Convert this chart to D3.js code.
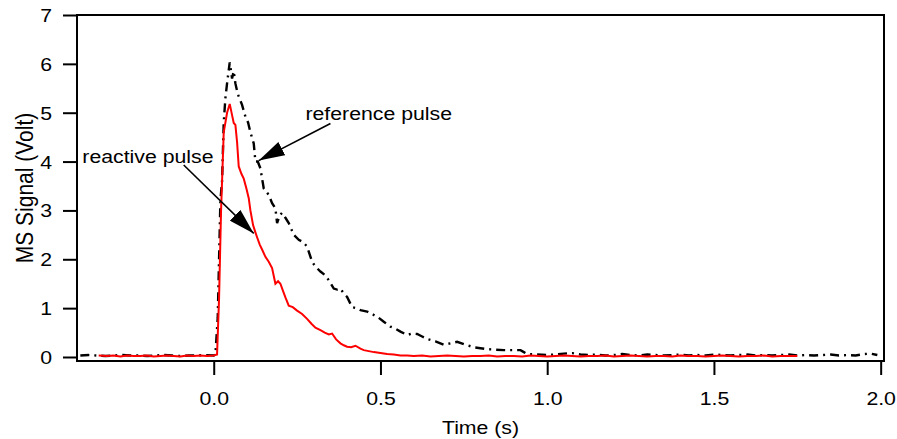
<!DOCTYPE html>
<html>
<head>
<meta charset="utf-8">
<script src="https://cdn.jsdelivr.net/npm/d3@7"></script>
<style>
  body { margin: 0; background: #fff; }
  text { font-family: "Liberation Sans", Arial, sans-serif; }
</style>
</head>
<body>
<div id="chart"></div>
<script>
var wd = 897;
var ht = 439;
var margin = { top: 15, right: 13, bottom: 78, left: 77 };
var stretch = 1.15; // glyphs in the picture are a bit wider than tall

// reactive pulse (red, solid)
var reactiveTime = [-0.345,-0.32,-0.30,-0.28,-0.26,-0.24,-0.22,-0.20,-0.18,-0.16,-0.14,-0.12,-0.10,-0.08,-0.06,-0.04,-0.02,0.0,0.01,
  0.016,0.022,0.030,0.040,0.048,0.055,0.060,0.065,0.070,0.075,0.083,0.090,0.098,0.105,0.110,0.118,0.125,0.130,0.138,0.145,0.155,
  0.165,0.175,0.185,0.193,0.200,0.208,0.215,0.225,0.237,0.250,0.265,0.280,0.293,0.305,0.320,0.333,0.345,0.355,0.367,0.380,
  0.390,0.400,0.412,0.425,0.440,0.450,0.465,0.480,0.50,0.52,0.54,0.56,0.58,
  0.600,0.625,0.650,0.675,0.700,0.725,0.750,0.775,0.800,0.825,0.850,0.875,0.900,0.925,0.950,0.975,1.000,1.025,1.050,1.075,
  1.100,1.125,1.150,1.175,1.200,1.225,1.250,1.275,1.300,1.325,1.350,1.375,1.400,1.425,1.450,1.475,1.500,1.525,1.550,1.575,
  1.600,1.625,1.650,1.675,1.700,1.725,1.750];
var reactiveSignal = [0.03,0.02,0.03,0.01,0.03,0.02,0.02,0.03,0.01,0.02,0.03,0.02,0.01,0.03,0.02,0.03,0.02,0.03,0.05,
  1.2,3.0,4.6,5.0,5.18,4.95,4.79,4.75,4.4,3.9,3.75,3.65,3.45,3.25,3.0,2.7,2.55,2.45,2.3,2.2,2.05,
  1.95,1.82,1.5,1.55,1.5,1.35,1.22,1.05,1.02,0.95,0.88,0.78,0.68,0.6,0.55,0.5,0.46,0.48,0.36,0.28,
  0.24,0.21,0.2,0.23,0.17,0.14,0.12,0.10,0.08,0.06,0.05,0.03,0.03,
  0.02,0.03,0.01,0.02,0.03,0.02,0.01,0.02,0.02,0.03,0.01,0.02,0.02,0.01,0.03,0.02,0.01,0.02,0.03,0.02,
  0.01,0.02,0.02,0.03,0.01,0.02,0.03,0.02,0.01,0.02,0.02,0.01,0.03,0.02,0.02,0.01,0.02,0.03,0.02,0.01,
  0.02,0.02,0.03,0.01,0.02,0.02,0.02];

// reference pulse (black, dash-dot)
var referenceTime = [-0.400,-0.375,-0.350,-0.325,-0.300,-0.275,-0.250,-0.225,-0.200,-0.175,-0.150,-0.125,-0.100,-0.075,-0.050,-0.025,0.0,
  0.005,0.012,0.020,0.025,0.030,0.035,0.040,0.048,0.052,0.055,0.060,0.065,0.070,0.075,0.085,0.095,0.103,0.110,0.120,0.125,0.132,
  0.140,0.150,0.158,0.165,0.175,0.185,0.190,0.198,0.205,0.215,0.225,0.240,0.255,0.268,0.280,0.295,0.305,0.320,0.335,0.345,
  0.360,0.370,0.380,0.390,0.400,0.415,0.428,0.440,0.460,0.480,0.495,0.510,0.530,0.545,0.560,0.580,0.595,0.610,0.625,0.640,
  0.665,0.690,0.710,0.730,0.755,0.780,0.800,0.820,0.845,0.870,0.895,0.920,0.930,0.940,0.970,1.000,
  1.025,1.050,1.075,1.100,1.125,1.150,1.175,1.200,1.225,1.250,1.275,1.300,1.325,1.350,1.375,1.400,1.425,1.450,1.475,1.500,
  1.525,1.550,1.575,1.600,1.625,1.650,1.675,1.700,1.725,1.750,1.775,1.800,1.825,1.850,1.875,1.900,1.925,1.950,1.970,1.990];
var referenceSignal = [0.03,0.04,0.03,0.02,0.03,0.04,0.03,0.03,0.02,0.03,0.04,0.03,0.02,0.03,0.03,0.04,0.03,
  0.05,0.8,3.2,3.6,4.8,5.3,5.6,6.03,5.85,5.7,5.85,5.6,5.45,5.33,5.16,4.92,4.8,4.6,4.37,4.0,4.0,
  3.86,3.45,3.38,3.32,3.15,3.04,2.74,2.9,2.95,2.85,2.74,2.5,2.4,2.35,2.26,1.95,1.85,1.75,1.67,1.57,
  1.40,1.38,1.40,1.30,1.23,1.02,1.0,0.96,0.93,0.86,0.8,0.72,0.62,0.58,0.52,0.45,0.48,0.47,0.42,0.37,
  0.32,0.25,0.28,0.31,0.25,0.20,0.18,0.16,0.15,0.14,0.14,0.14,0.10,0.06,0.05,0.04,
  0.05,0.07,0.08,0.05,0.04,0.05,0.03,0.04,0.06,0.04,0.03,0.05,0.04,0.03,0.04,0.05,0.03,0.04,0.03,0.05,
  0.04,0.03,0.04,0.05,0.03,0.04,0.03,0.04,0.05,0.03,0.04,0.03,0.04,0.05,0.03,0.04,0.03,0.06,0.07,0.04];

var xTicks = [0.0, 0.5, 1.0, 1.5, 2.0];
var yTicks = [0, 1, 2, 3, 4, 5, 6, 7];

var svg = d3.select("#chart").append("svg").attr("width", wd).attr("height", ht);

var xScale = d3.scaleLinear().domain([-0.41, 2.01]).range([margin.left, wd - margin.right]);
var yScale = d3.scaleLinear().domain([-0.082, 7]).range([ht - margin.bottom, margin.top]);

var xAxis = d3.axisBottom(xScale).tickValues(xTicks).tickFormat(d3.format(".1f")).tickSize(14);
var yAxis = d3.axisLeft(yScale).tickValues(yTicks).tickFormat(d3.format("d")).tickSize(14);

var gx = svg.append("g").attr("class", "axis x").attr("transform", "translate(0," + (ht - margin.bottom) + ")").call(xAxis);
var gy = svg.append("g").attr("class", "axis y").attr("transform", "translate(" + margin.left + ",0)").call(yAxis);

svg.selectAll(".axis .domain").remove();
svg.selectAll(".axis line").attr("stroke", "#000").attr("stroke-width", 2);
svg.selectAll(".axis text").style("font-size", "18.5px").attr("fill", "#000");
gx.selectAll("text").attr("x", 0).attr("y", 0).attr("dy", 0)
  .attr("transform", "translate(0,44) scale(" + stretch + ",1)");
gy.selectAll("text").attr("x", 0).attr("y", 0).attr("dy", "0.35em")
  .attr("transform", "translate(-25,0) scale(" + stretch + ",1)");

function linePath(times, vals) {
  var pts = times.map(function(t, i) { return [t, vals[i]]; });
  return d3.line().x(function(d) { return xScale(d[0]); }).y(function(d) { return yScale(d[1]); })(pts);
}

svg.append("path")
   .attr("d", linePath(referenceTime, referenceSignal))
   .attr("fill", "none")
   .attr("stroke", "#000")
   .attr("stroke-width", 2.4)
   .attr("stroke-dasharray", "9,5,2,5");

svg.append("path")
   .attr("d", linePath(reactiveTime, reactiveSignal))
   .attr("fill", "none")
   .attr("stroke", "#ff0000")
   .attr("stroke-width", 2);

// frame
svg.append("rect")
   .attr("x", margin.left).attr("y", margin.top)
   .attr("width", wd - margin.right - margin.left)
   .attr("height", ht - margin.bottom - margin.top)
   .attr("fill", "none").attr("stroke", "#000").attr("stroke-width", 2);

// annotations
var defs = svg.append("defs");
defs.append("marker")
    .attr("id", "head")
    .attr("viewBox", "0 0 26 15")
    .attr("refX", 26).attr("refY", 7.5)
    .attr("markerWidth", 26).attr("markerHeight", 15)
    .attr("markerUnits", "userSpaceOnUse")
    .attr("orient", "auto")
    .append("path").attr("d", "M0,0 L26,7.5 L0,15 Z").attr("fill", "#000");

var arrows = [
  { from: [-0.09, 3.93], to: [0.12, 2.53] },
  { from: [0.35, 4.78], to: [0.135, 4.02] }
];
svg.selectAll("line.arrow").data(arrows).enter().append("line")
   .attr("class", "arrow")
   .attr("x1", function(d) { return xScale(d.from[0]); })
   .attr("y1", function(d) { return yScale(d.from[1]); })
   .attr("x2", function(d) { return xScale(d.to[0]); })
   .attr("y2", function(d) { return yScale(d.to[1]); })
   .attr("stroke", "#000").attr("stroke-width", 1.6)
   .attr("marker-end", "url(#head)");

var labels = [
  { t: -0.394, v: 3.97, text: "reactive pulse" },
  { t: 0.275, v: 4.85, text: "reference pulse" }
];
svg.selectAll("text.note").data(labels).enter().append("text")
   .attr("class", "note")
   .attr("transform", function(d) { return "translate(" + xScale(d.t) + "," + yScale(d.v) + ") scale(" + stretch + ",1)"; })
   .style("font-size", "18.5px")
   .text(function(d) { return d.text; });

svg.append("text")
   .attr("text-anchor", "middle")
   .attr("transform", "translate(" + ((margin.left + wd - margin.right) / 2) + ",434) scale(" + stretch + ",1)")
   .style("font-size", "18.5px")
   .text("Time (s)");

svg.append("text")
   .attr("text-anchor", "middle")
   .attr("transform", "translate(33," + ((margin.top + ht - margin.bottom) / 2) + ") scale(" + stretch + ",1) rotate(-90)")
   .style("font-size", "21px")
   .text("MS Signal (Volt)");
</script>
</body>
</html>
